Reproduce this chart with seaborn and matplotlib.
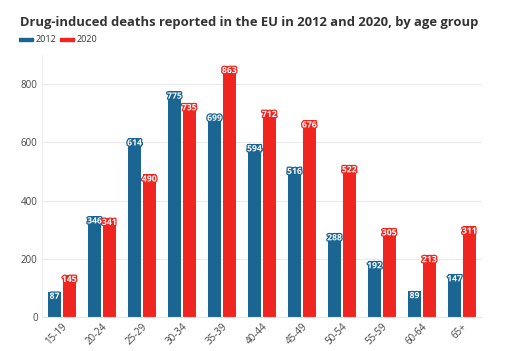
import matplotlib
matplotlib.use("Agg")
import matplotlib.pyplot as plt
import matplotlib.patheffects as pe
import pandas as pd
import seaborn as sns

ages = ["15-19", "20-24", "25-29", "30-34", "35-39", "40-44",
        "45-49", "50-54", "55-59", "60-64", "65+"]
deaths_2012 = [87, 346, 614, 775, 699, 594, 516, 288, 192, 89, 147]
deaths_2020 = [145, 341, 490, 735, 863, 712, 676, 522, 305, 213, 311]
years = ["2012", "2020"]
colors = {"2012": "#1a6591", "2020": "#f0251f"}

df = pd.DataFrame({
    "age": ages * 2,
    "year": ["2012"] * len(ages) + ["2020"] * len(ages),
    "deaths": deaths_2012 + deaths_2020,
})

sns.set_style("white")
plt.rcParams["font.family"] = ["Open Sans", "DejaVu Sans"]

fig = plt.figure(figsize=(5.17, 3.51), dpi=100)
ax = fig.add_axes([0.081, 0.097, 0.851, 0.746])

sns.barplot(data=df, x="age", y="deaths", hue="year", hue_order=years,
            palette=colors, width=0.74, gap=0.1, saturation=1,
            edgecolor="none", legend=False, ax=ax)

# value labels at the top of each bar
for cont, yr in zip(ax.containers, years):
    for bar in cont:
        h = bar.get_height()
        ax.text(bar.get_x() + bar.get_width() / 2, h - 16, f"{h:.0f}",
                ha="center", va="center", fontsize=6.2, fontweight="bold",
                color="white",
                path_effects=[pe.withStroke(linewidth=1.8, foreground=colors[yr])])

ax.set_ylim(0, 900)
ax.set_xlim(-0.5, len(ages) - 0.5)
ax.set_yticks([0, 200, 400, 600, 800])
ax.yaxis.grid(True, color="#ebebeb", linewidth=0.8)
ax.set_axisbelow(True)
for s in ["top", "right"]:
    ax.spines[s].set_visible(False)
ax.spines["left"].set_color("#eeeeee")
ax.spines["bottom"].set_color("#e6e6e6")
ax.tick_params(axis="both", length=0, labelsize=7, colors="#444444", pad=3)
plt.setp(ax.get_xticklabels(), rotation=45, ha="right", rotation_mode="anchor")
ax.set_xlabel("")
ax.set_ylabel("")

fig.text(0.038, 0.935, "Drug-induced deaths reported in the EU in 2012 and 2020, by age group",
         fontsize=9.4, fontweight="bold", color="#333333", va="center")

# legend
lx = 0.037
for yr in years:
    fig.patches.append(plt.Rectangle((lx, 0.883), 0.027, 0.008, color=colors[yr],
                                     transform=fig.transFigure, figure=fig))
    fig.text(lx + 0.031, 0.887, yr, fontsize=6.5, color="#333333", va="center")
    lx += 0.08

fig.savefig("out.png", dpi=100)
